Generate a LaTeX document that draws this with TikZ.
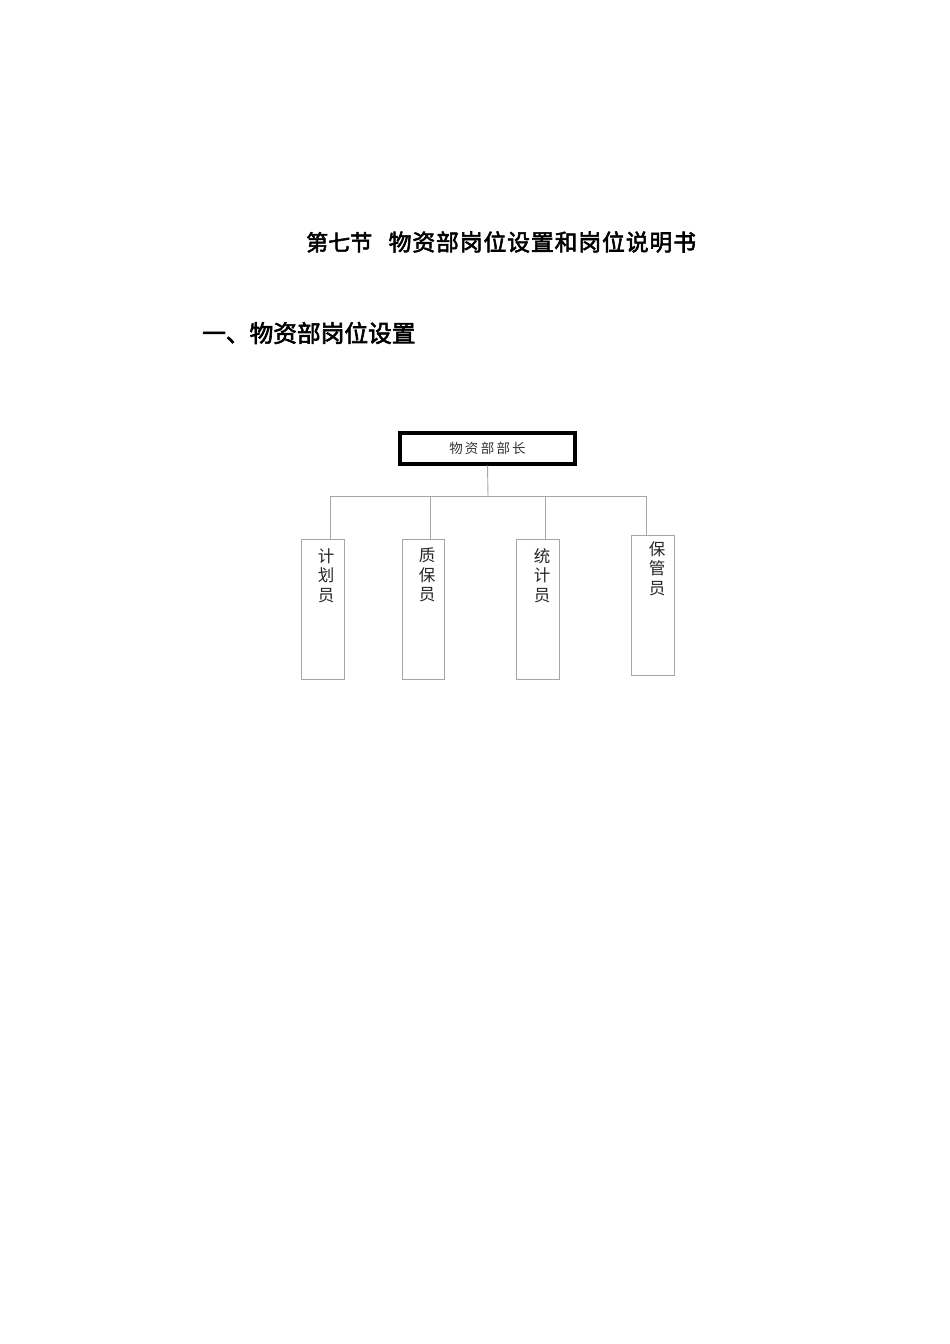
\documentclass[tikz,border=0pt]{standalone}
\usepackage{fontspec}
\newfontfamily\cjk{Noto Sans CJK SC}
\newfontfamily\cjkb{Noto Sans CJK SC}[FakeBold=2.5]
\newfontfamily\cjkbs{Noto Sans CJK SC}[FakeBold=2.5,LetterSpace=4]
\begin{document}
\begin{tikzpicture}[x=1pt,y=-1pt,
  conn/.style={draw=black!35, line width=0.9pt},
  postbox/.style={draw=black!35, line width=0.9pt, minimum width=42.6pt, minimum height=140pt, inner sep=0pt},
  posttext/.style={font=\cjk\fontsize{16.5}{19.5}\selectfont, align=center, inner sep=0pt, anchor=north, text=black!85},
  headbox/.style={draw=black, line width=4pt, minimum width=175pt, minimum height=31pt, inner sep=0pt, font=\cjk\fontsize{13.5}{16}\selectfont, text=black!80}]
\useasboundingbox[fill=white] (0,0) rectangle (950,1344);
% titles
\node[anchor=west, inner sep=0pt, font=\cjkb\fontsize{22}{24}\selectfont] (title) at (306,242) {第七节\hspace{0.75em}{\cjkbs\fontsize{22.8}{24}\selectfont 物资部岗位设置和岗位说明书}};
\node[anchor=west, inner sep=0pt, font=\cjkb\fontsize{23.7}{26}\selectfont] (sec) at (202,333) {一、物资部岗位设置};
% head box
\node[headbox] (head) at (487.5,448) {物\,资\,部\,部\,长};
% connector coordinates
\coordinate (hub) at (488,496);
\coordinate (b1) at (330,496);
\coordinate (b4) at (646,496);
\coordinate (b2) at (430,496);
\coordinate (b3) at (545,496);
% post boxes
\node[postbox, anchor=north] (p1) at (323,539) {};
\node[postbox, anchor=north] (p2) at (423.3,539) {};
\node[postbox, anchor=north] (p3) at (538,539) {};
\node[postbox, anchor=north] (p4) at (653,535) {};
\node[posttext] (t1) at (326,548) {计\\划\\员};
\node[posttext] (t2) at (427,548) {质\\保\\员};
\node[posttext] (t3) at (542,548) {统\\计\\员};
\node[posttext] (t4) at (657,541) {保\\管\\员};
% connectors
\draw[conn] (head.south) -- (hub);
\draw[conn] (b1) -- (b4);
\draw[conn] (b1) -- (b1 |- p1.north);
\draw[conn] (b2) -- (b2 |- p2.north);
\draw[conn] (b3) -- (b3 |- p3.north);
\draw[conn] (b4) -- (b4 |- p4.north);
\end{tikzpicture}
\end{document}
